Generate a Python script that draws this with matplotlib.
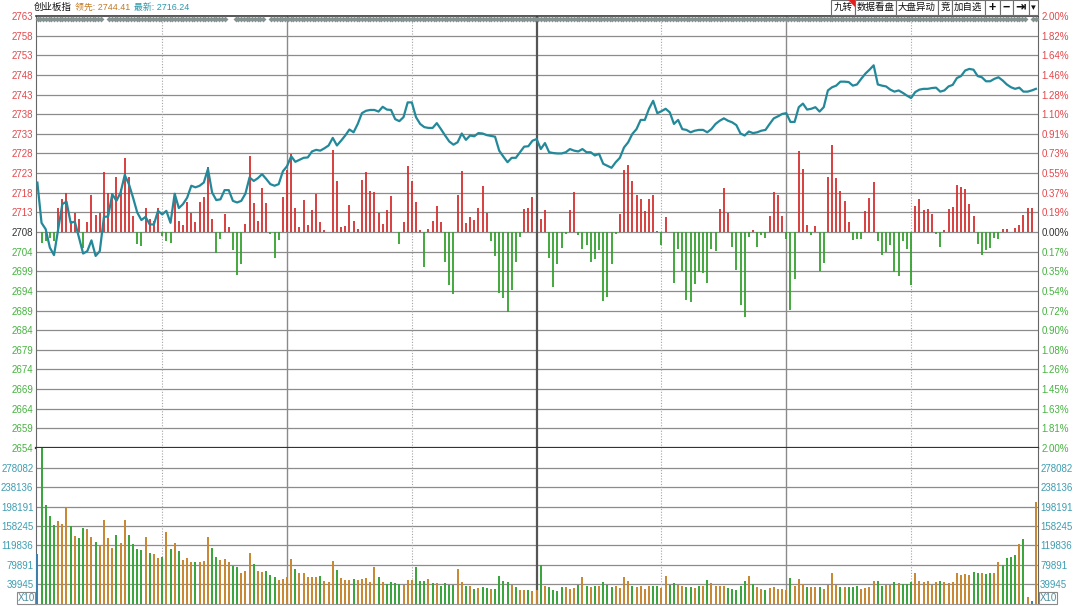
import numpy as np
import matplotlib
matplotlib.use("Agg")
import matplotlib.pyplot as plt
from matplotlib.patches import Rectangle, Polygon

plt.rcParams['font.family'] = ['Liberation Sans', 'Noto Sans CJK SC', 'DejaVu Sans']

# --------------------------------------------------
# data (one value per minute, 9:30 -> 15:00, 241 points)
# --------------------------------------------------
PRE_CLOSE = 2708.3
LEAD = 2744.41
LAST = 2716.24
NAME = "创业板指"

PRICE = [
    2720.7, 2710.6, 2709.0, 2704.4, 2702.5, 2709.0, 2715.3, 2715.9, 2710.6, 2710.9,
    2706.9, 2702.9, 2703.5, 2706.2, 2702.3, 2703.5, 2712.1, 2712.2, 2717.8, 2716.1,
    2718.2, 2722.6, 2720.3, 2716.9, 2713.2, 2711.3, 2712.1, 2710.2, 2710.2, 2713.6,
    2712.7, 2713.6, 2710.6, 2717.9, 2714.3, 2715.3, 2716.9, 2719.9, 2719.5, 2719.9,
    2720.7, 2724.1, 2718.2, 2716.3, 2716.5, 2718.8, 2718.8, 2716.1, 2715.7, 2716.1,
    2717.9, 2722.0, 2721.1, 2721.8, 2722.8, 2721.6, 2720.3, 2719.9, 2720.3, 2723.5,
    2724.8, 2727.3, 2725.9, 2726.4, 2726.9, 2727.0, 2728.5, 2728.9, 2728.7, 2729.3,
    2730.0, 2731.9, 2730.0, 2731.2, 2732.5, 2734.0, 2733.3, 2735.4, 2738.1, 2738.7,
    2738.9, 2738.9, 2738.5, 2739.7, 2739.0, 2738.9, 2736.6, 2736.1, 2737.1, 2740.8,
    2740.8, 2737.1, 2735.4, 2734.6, 2734.4, 2734.4, 2735.6, 2734.1, 2732.5, 2731.0,
    2730.2, 2730.8, 2733.0, 2731.4, 2732.5, 2732.3, 2733.1, 2733.0, 2732.6, 2732.4,
    2732.2, 2728.7, 2727.2, 2725.8, 2726.9, 2726.9, 2728.3, 2729.7, 2729.8, 2731.2,
    2731.6, 2729.1, 2730.6, 2728.3, 2728.1, 2728.0, 2728.0, 2728.3, 2729.1, 2728.7,
    2728.5, 2729.1, 2728.3, 2728.3, 2727.5, 2727.9, 2725.4, 2724.9, 2724.4, 2725.8,
    2726.9, 2729.5, 2730.8, 2732.9, 2734.1, 2736.4, 2736.4, 2739.2, 2741.2, 2738.1,
    2738.6, 2739.2, 2738.3, 2735.4, 2736.4, 2734.1, 2733.9, 2733.3, 2733.7, 2733.9,
    2733.9, 2733.3, 2734.1, 2735.4, 2736.2, 2736.8, 2736.2, 2735.8, 2735.1, 2733.0,
    2732.5, 2733.5, 2733.1, 2733.3, 2733.7, 2733.9, 2735.4, 2736.8, 2737.3, 2737.9,
    2738.1, 2735.9, 2735.9, 2739.6, 2740.5, 2739.0, 2739.2, 2739.6, 2738.5, 2739.6,
    2743.8, 2744.6, 2745.0, 2746.0, 2746.0, 2745.9, 2745.0, 2745.3, 2746.7, 2748.0,
    2749.0, 2750.1, 2745.3, 2745.0, 2744.8, 2744.0, 2743.5, 2743.8, 2743.2, 2742.5,
    2741.9, 2743.4, 2744.0, 2744.2, 2744.2, 2744.4, 2744.5, 2743.5, 2743.8, 2744.8,
    2745.2, 2746.9, 2747.4, 2748.8, 2749.2, 2749.0, 2747.4, 2747.1, 2746.1, 2746.1,
    2746.7, 2747.1, 2746.3, 2745.3, 2744.6, 2744.2, 2744.5, 2743.5, 2743.5, 2743.8,
    2744.2,
]

# red / green strength bars, in index points around the previous close
POWER = [
    0, -2.7, -2.3, -1.4, -2.3, 6.1, 8.2, 9.7, 2.8, 4.8,
    3.2, -3.9, 2.5, 9.3, 4.3, 4.8, 15.1, 9.7, 9.7, 13.8,
    10.9, 18.6, 13.8, 4.0, -2.9, -3.5, 6.1, 3.2, 2.8, 6.1,
    -1.0, -2.3, -2.8, 9.9, 2.8, 1.7, 7.5, 4.8, 2.5, 7.5,
    8.9, 16.3, 3.2, -5.3, -1.7, 4.4, 1.3, -4.5, -10.9, -8.1,
    1.9, 19.0, 7.2, 2.8, 11.1, 7.2, -0.6, -6.4, -2.0, 8.9,
    15.5, 19.6, 6.1, 1.2, 7.9, 1.8, 5.5, 9.5, 2.5, 0.5,
    0, 20.6, 12.9, 1.2, 1.6, 6.7, 2.7, 0.8, 13.1, 15.1,
    10.4, 10.1, 4.7, 2.0, 5.4, 9.1, 0, -3.0, 2.4, 16.6,
    12.7, 7.6, 0.5, -8.7, 0.8, 2.8, 6.4, 2.5, -7.6, -13.2,
    -15.5, 9.4, 15.2, 2.3, 3.8, 3.0, 6.1, 11.5, 4.8, -2.2,
    -5.9, -15.2, -16.6, -20.0, -14.5, -7.4, -1.3, 5.8, 6.0, 8.9,
    0, 3.3, 5.4, -6.4, -13.9, -7.9, -4.0, -0.5, 5.4, 10.1,
    -0.8, -4.3, -3.3, -7.6, -6.8, -4.4, -17.2, -16.4, -8.0, -0.5,
    4.5, 15.5, 16.8, 12.9, 9.4, 8.3, 5.2, 8.3, 9.3, 0.3,
    -3.2, 3.7, 0, -12.9, -4.3, -9.7, -17.0, -17.6, -13.0, -10.1,
    -10.4, -12.9, -4.3, -4.7, 5.8, 11.0, 4.8, -3.7, -9.5, -18.2,
    -21.2, -1.2, 0.4, -3.7, -0.7, -1.5, 4.1, 10.1, 9.4, 4.1,
    -1.7, -19.6, -11.7, 20.2, 15.9, 1.7, -0.8, 1.4, -9.9, -7.7,
    13.8, 21.9, 13.6, 10.2, 7.8, 2.5, -2.1, -1.7, -1.7, 5.3,
    8.5, 12.5, -2.3, -5.8, -5.0, -3.3, -10.0, -11.1, -2.3, -4.3,
    -13.4, 6.5, 8.4, 5.6, 5.8, 4.6, -0.4, -3.8, 0.6, 5.8,
    6.3, 11.9, 11.4, 10.9, 6.9, 3.9, -2.9, -5.8, -4.4, -4.0,
    -1.5, -1.8, 0.8, 0.7, 0, 1.1, 1.7, 4.2, 6.1, 6.1,
    0,
]

VOLUME = [
    101660, 318000, 201620, 179180, 160820, 169660, 162180, 196180, 158780, 138380,
    134300, 154020, 152660, 137020, 126140, 119340, 171020, 134300, 113900, 139740,
    123420, 171020, 139740, 121380, 111180, 109820, 135660, 103020, 100980, 94180,
    95540, 145860, 111180, 123420, 107780, 89420, 94180, 84660, 84660, 84660,
    88060, 135660, 113220, 94860, 89420, 91460, 84660, 76500, 74460, 63580,
    66300, 103020, 81940, 66300, 64940, 66300, 58140, 54060, 48620, 50660,
    54060, 91460, 71060, 63580, 62220, 55420, 54060, 54060, 56780, 46580,
    44540, 88060, 69020, 53380, 48620, 47940, 49980, 48620, 50000, 52000,
    43900, 75800, 54060, 45200, 39800, 45200, 41800, 39800, 38400, 48600,
    48600, 75800, 47260, 47900, 50660, 43200, 43200, 35700, 41800, 39100,
    39100, 70400, 43900, 36400, 36400, 30900, 32300, 35000, 32300, 30900,
    30300, 56800, 46600, 43900, 38400, 34300, 28900, 28900, 28900, 27500,
    28900, 78500, 36400, 33700, 28900, 27500, 33700, 33700, 30900, 32300,
    39100, 54060, 37060, 34300, 35700, 35700, 44500, 39100, 34300, 36400,
    32300, 54060, 45900, 37060, 34300, 37060, 30900, 35700, 37060, 37060,
    32300, 56100, 39100, 41800, 39100, 37060, 34300, 34300, 32300, 35700,
    35700, 49300, 41800, 37060, 37060, 37060, 33000, 29600, 28200, 37060,
    46600, 56800, 39800, 34300, 30900, 28200, 31600, 34300, 29600, 29600,
    28200, 52700, 37060, 50000, 39800, 34300, 34300, 34300, 34300, 29600,
    39100, 62220, 39100, 34300, 34300, 34300, 35000, 36400, 30900, 32300,
    34300, 47260, 47900, 37060, 39100, 39100, 43900, 41800, 39800, 39800,
    43900, 63580, 47900, 44500, 46600, 39100, 44500, 47900, 44500, 41800,
    44500, 62220, 59500, 60200, 58800, 64940, 62220, 62220, 60200, 62900,
    63580, 86000, 79200, 92800, 95500, 98900, 122700, 131600, 14600, 5100,
    207000,
]

# o = up (orange), g = down (green), b = flat (blue)
VOL_SIDE = (
    "bggggooogo" "ggoogoooog" "ooggggogoo" "gogogooogo" "ooggoooggo"
    "oogoogggoo" "oogooooogo" "oogooogooo" "oogoggggoo" "ogggogoggg"
    "googogoggo" "ggggogoogo" "ogoggggooo" "gogogogggo" "ooogoooogg"
    "ooggooggog" "ogoooogggg" "gogoogoooo" "ogooogoogo" "ooogogggoo"
    "ooggoogogg" "goooooogoo" "oooooggogg" "ooggggogob" "o"
)

PRICE_LABELS = ["2763", "2758", "2753", "2748", "2743", "2738", "2733", "2728",
                "2723", "2718", "2713", "2708", "2704", "2699", "2694", "2689",
                "2684", "2679", "2674", "2669", "2664", "2659", "2654"]
PCT_LABELS = ["2.00%", "1.82%", "1.64%", "1.46%", "1.28%", "1.10%", "0.91%",
              "0.73%", "0.55%", "0.37%", "0.19%", "0.00%", "0.17%", "0.35%",
              "0.54%", "0.72%", "0.90%", "1.08%", "1.26%", "1.45%", "1.63%",
              "1.81%", "2.00%"]
VOL_LABELS = ["278082", "238136", "198191", "158245", "119836", "79891", "39945"]

BUTTONS = ["九转", "数据看盘", "大盘异动", "竞", "加自选", "+", "−", "⇥", "▾"]
BUTTON_X = [(831, 855), (855, 896), (896, 938), (938, 952), (952, 985),
            (985, 1000), (1000, 1013), (1013, 1029), (1029, 1038)]

# --------------------------------------------------
# colours / layout
# --------------------------------------------------
W, H = 1080, 606
RED, GREEN = "#d4302f", "#35a12e"
VOL_COL = {"o": "#c8862f", "g": "#36a438", "b": "#3a7fae"}
LBL_RED, LBL_GREEN, LBL_TEAL = "#e4474b", "#45b33f", "#3d9db2"
GRID = "#8c8c8c"

L, R = 35.5, 1038
TOP, MID, BOT = 16, 448, 604


def fx(x):
    return x / W


def fy(y):
    return 1 - y / H


fig = plt.figure(figsize=(W / 100, H / 100), dpi=100)
fig.patch.set_facecolor("white")

ax = fig.add_axes([fx(L), fy(MID), (R - L) / W, (MID - TOP) / H])
axv = fig.add_axes([fx(L), fy(BOT), (R - L) / W, (BOT - MID) / H])

minutes = np.arange(len(PRICE))
price = np.array(PRICE)
power = np.array(POWER)
volume = np.array(VOLUME)

# --------------------------------------------------
# upper panel: strength bars + index line
# --------------------------------------------------
lo, hi = PRE_CLOSE * 0.98, PRE_CLOSE * 1.02
ticks = PRE_CLOSE * (1 + 0.02 * (11 - np.arange(23)) / 11)

for y in ticks[1:-1]:
    ax.axhline(y, color=GRID, lw=0.9, zorder=1)

nz = power != 0
ax.vlines(minutes[nz], PRE_CLOSE, PRE_CLOSE + power[nz],
          colors=[RED if v > 0 else GREEN for v in power[nz]], lw=1.3, zorder=3)
ax.plot(minutes, price, color="#23899a", lw=1.6, zorder=4)

ax.set_ylim(lo, hi)
ax.set_yticks(ticks)
ax.set_yticklabels(PRICE_LABELS, fontsize=7)
for k, t in enumerate(ax.get_yticklabels()):
    t.set_color(LBL_RED if k < 11 else ("#333333" if k == 11 else LBL_GREEN))
ax.tick_params(axis="y", length=0, pad=1.5)

axr = ax.twinx()
axr.set_ylim(lo, hi)
axr.set_yticks(ticks)
axr.set_yticklabels(PCT_LABELS, fontsize=7)
for k, t in enumerate(axr.get_yticklabels()):
    t.set_color(LBL_RED if k < 11 else ("#333333" if k == 11 else LBL_GREEN))
axr.tick_params(axis="y", length=0, pad=2.5)
for s in axr.spines.values():
    s.set_visible(False)

# --------------------------------------------------
# lower panel: volume
# --------------------------------------------------
vol_ticks = [int(v) for v in VOL_LABELS]
for v in vol_ticks:
    axv.axhline(v, color=GRID, lw=0.9, zorder=1)
axv.vlines(minutes, 0, volume, colors=[VOL_COL[c] for c in VOL_SIDE], lw=1.4, zorder=3)
axv.set_ylim(0, 318000)
axv.set_yticks(vol_ticks)
axv.set_yticklabels(VOL_LABELS, fontsize=7, color=LBL_TEAL)
axv.tick_params(axis="y", length=0, pad=1.5, labelleft=True, labelright=True)

# --------------------------------------------------
# shared x axis, time grid
# --------------------------------------------------
for a in (ax, axv):
    a.set_xlim(-0.45, 240.5)
    a.set_xticks([])
    for i in (60, 180):
        a.axvline(i, color="#8a8a8a", lw=1.0, zorder=2)
    for i in (30, 90, 150, 210):
        a.axvline(i, color="#a5a5a5", lw=0.8, ls=(0, (1, 1.5)), zorder=2)
    a.axvline(120, color="#555555", lw=1.6, zorder=2)
    a.spines["left"].set_color("#666666")
    a.spines["right"].set_color("#666666")

ax.spines["top"].set_color("#3a3a3a")
ax.spines["top"].set_linewidth(1.2)
ax.spines["bottom"].set_color("#333333")
ax.spines["bottom"].set_linewidth(1.6)
axv.spines["top"].set_visible(False)
axv.spines["bottom"].set_color("#999999")
axv.spines["bottom"].set_linewidth(0.8)

# row of grey diamonds under the top border
xs = np.arange(37.5, 1037, 2.75)
gaps = [(101, 107), (227, 233), (265, 270), (1026, 1032)]
keep = np.ones(len(xs), bool)
for g0, g1 in gaps:
    keep &= ~((xs > g0) & (xs < g1))
xs = xs[keep]
ax.plot((xs - L) / (R - L), np.full(len(xs), 1 - 3.4 / (MID - TOP)), ls="none",
        marker="D", ms=3.0, mew=0, color="#859292", transform=ax.transAxes,
        clip_on=False, zorder=6)

# --------------------------------------------------
# header text and buttons
# --------------------------------------------------
fig.text(fx(34), fy(7.5), NAME, fontsize=6.8, color="#111111", va="center")
fig.text(fx(75), fy(7.5), f"领先: {LEAD:.2f}", fontsize=6.4, color="#c07a22", va="center")
fig.text(fx(134), fy(7.5), f"最新: {LAST:.2f}", fontsize=6.4, color="#2a96a8", va="center")

for label, (x0, x1) in zip(BUTTONS, BUTTON_X):
    fig.add_artist(Rectangle((fx(x0), fy(14.5)), (x1 - x0) / W, 14.5 / H,
                             transform=fig.transFigure, facecolor="white",
                             edgecolor="#6e6e6e", lw=0.8))
    bold = label in ("+", "−", "⇥")
    fig.text(fx((x0 + x1) / 2), fy(7.5), label, ha="center", va="center",
             fontsize=9 if bold else 6.8, fontweight="bold" if bold else "normal",
             color="#111111")
fig.add_artist(Polygon([(fx(848), fy(0)), (fx(855), fy(0)), (fx(855), fy(7))],
                       closed=True, transform=fig.transFigure, color="#e02020", lw=0))

# X10 boxes
for x0 in (17, 1039):
    fig.add_artist(Rectangle((fx(x0), fy(604)), 18 / W, 12 / H, transform=fig.transFigure,
                             facecolor="white", edgecolor="#8a8a8a", lw=0.8))
    fig.text(fx(x0 + 9), fy(598), "X10", ha="center", va="center", fontsize=7,
             color="#4a8d9e")

fig.savefig("out.png", dpi=100)
